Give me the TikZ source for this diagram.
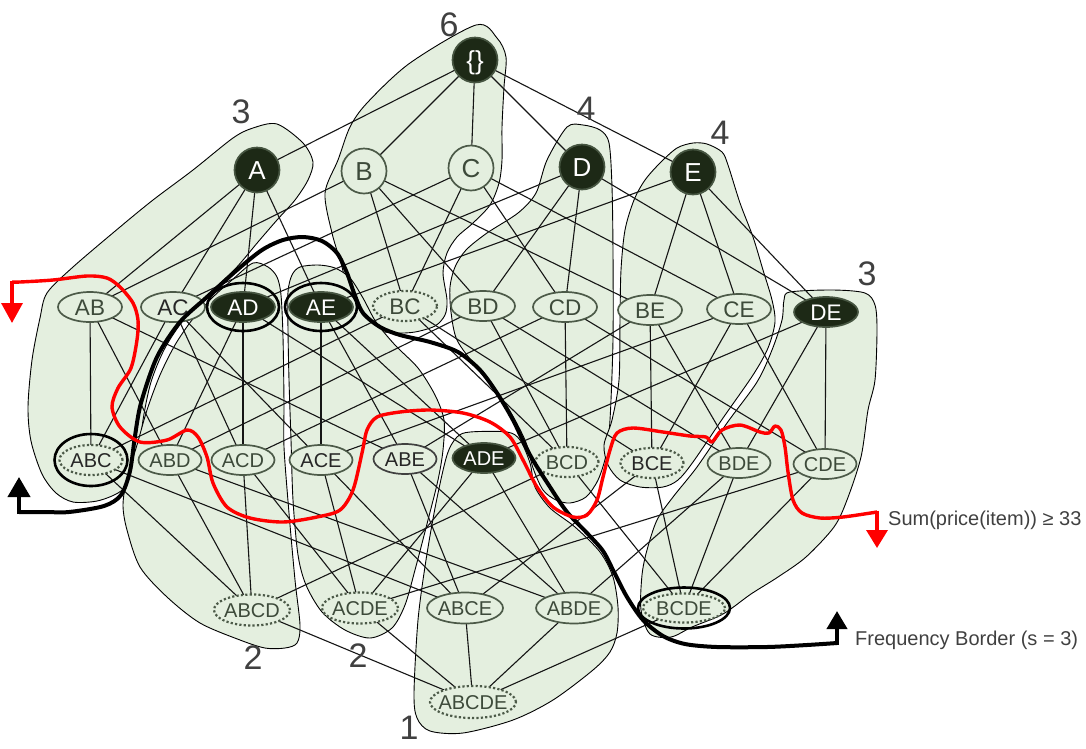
\documentclass[tikz,border=0pt]{standalone}
\usepackage{fontspec}
\setmainfont{Liberation Sans}
\usetikzlibrary{shapes.geometric,arrows.meta}
\definecolor{blobfill}{HTML}{E4EFDF}
\definecolor{nodefill}{HTML}{E4EFDF}
\definecolor{nodeline}{HTML}{4C5A48}
\definecolor{nodetext}{HTML}{3D4A3A}
\definecolor{darkfill}{HTML}{1D2916}
\definecolor{darkline}{HTML}{465541}
\definecolor{numcol}{HTML}{404040}
\definecolor{edgecol}{HTML}{151515}
\definecolor{redline}{HTML}{FF0000}
\pgfdeclarelayer{blobs}
\pgfdeclarelayer{edges}
\pgfdeclarelayer{over}
\pgfsetlayers{blobs,edges,main,over}
\newcommand{\lbl}[1]{\smash{\makebox[0pt]{\raisebox{-0.36em}{#1}}}}
\newcommand{\vlbl}[1]{\smash{\raisebox{-0.36em}{#1}}}
\tikzset{
  nd/.style={ellipse, inner sep=0pt, outer sep=0pt, line width=1.7pt},
  lv1/.style={minimum width=45pt, minimum height=45pt, font=\fontsize{26}{26}\selectfont},
  lv2/.style={minimum width=64pt, minimum height=30pt, font=\fontsize{22.5}{23}\selectfont},
  lv3/.style={minimum width=63pt, minimum height=30pt, font=\fontsize{20}{20}\selectfont},
  lv4/.style={minimum width=76pt, minimum height=31pt, font=\fontsize{20}{20}\selectfont},
  lt/.style={nd, fill=nodefill, draw=nodeline, text=nodetext},
  dk/.style={nd, fill=darkfill, draw=darkline, text=white},
  dt/.style={nd, fill=nodefill, draw=nodeline, text=nodetext, line width=2.2pt, dash pattern=on 2.2pt off 2.2pt},
  strong/.style={text=black!85},
  ring/.style={draw=black, line width=2.6pt},
  blob/.style={fill=blobfill, draw=black, line width=0.9pt},
  hasse/.style={draw=edgecol, line width=1.1pt},
  num/.style={text=numcol, font=\fontsize{34}{34}\selectfont, inner sep=0pt},
  caption/.style={text=numcol, font=\fontsize{20}{20}\selectfont, inner sep=0pt, anchor=west},
  bordr/.style={draw=black, line width=4pt, line join=round},
  redc/.style={draw=redline, line width=3.4pt, line join=round},
}
\begin{document}
\begin{tikzpicture}[x=1pt,y=-1pt]
\useasboundingbox (0,0) rectangle (1086,748);

% ---------- blobs ----------
\begin{pgfonlayer}{blobs}
% 6 : {}, B, C, BC
\draw[blob] plot[smooth cycle, tension=0.5] coordinates {(476,25) (497,38) (506,57) (504,87) (502,127) (502,160) (499,183) (490,205) (473,223) (457,237) (447,253) (443,273) (447,300) (445,315) (435,326) (415,332) (395,333) (375,330) (360,320) (350,300) (342,267) (332,233) (325,193) (338,160) (350,127) (367,103) (410,63)};
% 3 : A, AB, AC, ABC
\draw[blob] plot[smooth cycle, tension=0.5] coordinates {(277,124) (303,143) (313,162) (308,180) (295,200) (277,220) (258,242) (236,268) (210,293) (185,318) (165,348) (151,382) (143,420) (139,455) (132,480) (118,493) (97,501) (73,502) (56,493) (42,474) (31,441) (28,407) (32,360) (40,318) (47,293) (73,267) (120,227) (153,200) (193,170) (233,138) (253,128)};
% 2 : AD, ABD, ACD, ABCD
\draw[blob] plot[smooth cycle, tension=0.5] coordinates {(253,263) (268,267) (277,277) (281,295) (283,337) (284,403) (284,447) (289,513) (295,580) (300,625) (297,643) (285,648) (265,648) (240,640) (200,623) (167,597) (140,567) (127,530) (123,505) (127,478) (137,445) (147,410) (160,375) (175,345) (192,320) (212,298) (232,280)};
% 2 : AE, ACE, ABE, ACDE
\draw[blob] plot[smooth cycle, tension=0.5] coordinates {(300,267) (318,265) (335,268) (350,278) (363,298) (376,322) (395,345) (418,368) (435,395) (444,420) (443,450) (438,480) (428,520) (415,570) (405,605) (392,628) (370,638) (345,630) (322,612) (306,585) (298,555) (293,500) (291,440) (289,380) (288,330) (288,292) (292,275)};
% 1 : ADE, ABCE, ABDE, ABCDE
\draw[blob] plot[smooth cycle, tension=0.5] coordinates {(457,437) (470,432) (507,432) (520,440) (530,463) (535,487) (550,508) (575,527) (600,552) (613,577) (618,607) (617,633) (610,652) (593,670) (553,700) (513,720) (463,733) (430,731) (417,718) (414,693) (418,620) (426,560) (436,503) (447,455)};
% 4 : D, BD, CD, BCD
\draw[blob] plot[smooth cycle, tension=0.5] coordinates {(567,127) (583,125) (600,130) (609,143) (612,187) (613,253) (613,340) (610,420) (606,455) (598,480) (586,497) (570,503) (556,500) (543,490) (533,468) (525,440) (505,403) (477,368) (457,340) (451,312) (450,287) (455,267) (466,250) (487,233) (518,213) (536,193) (547,160)};
% 4 : E, BE, CE, BCE
\draw[blob] plot[smooth cycle, tension=0.5] coordinates {(693,143) (707,144) (722,152) (728,165) (740,203) (753,237) (763,270) (772,300) (775,322) (768,348) (753,375) (723,418) (693,462) (678,480) (663,487) (640,487) (620,480) (608,465) (604,445) (612,420) (619,380) (620,320) (621,270) (625,230) (634,200) (645,180) (660,163) (677,148)};
% 3 : DE, BDE, CDE, BCDE
\draw[blob] plot[smooth cycle, tension=0.5] coordinates {(790,292) (833,290) (865,293) (875,305) (877,330) (875,380) (868,410) (861,457) (847,500) (834,527) (806,557) (778,577) (751,594) (723,614) (692,627) (671,637) (650,634) (641,610) (642,575) (647,550) (657,520) (673,497) (697,467) (727,423) (757,382) (772,350) (782,320) (784,300)};
\end{pgfonlayer}

% ---------- nodes ----------
\node[dk, lv1] (E0) at (475,60) {\lbl{\{\}}};
\node[dk, lv1] (A) at (257,170) {\lbl{A}};
\node[lt, lv1] (B) at (364,171) {\lbl{B}};
\node[lt, lv1] (C) at (471,168) {\lbl{C}};
\node[dk, lv1] (D) at (582,167) {\lbl{D}};
\node[dk, lv1] (E) at (693,172) {\lbl{E}};

\node[lt, lv2] (AB) at (90,307) {\lbl{AB}};
\node[lt, lv2, strong] (AC) at (173,307) {\lbl{AC}};
\node[dk, lv2] (AD) at (243,307) {\lbl{AD}};
\node[dk, lv2] (AE) at (321,307) {\lbl{AE}};
\node[dt, lv2] (BC) at (405,306) {\lbl{BC}};
\node[lt, lv2] (BD) at (483,306) {\lbl{BD}};
\node[lt, lv2] (CD) at (565,307) {\lbl{CD}};
\node[lt, lv2] (BE) at (650,310) {\lbl{BE}};
\node[lt, lv2] (CE) at (739,309) {\lbl{CE}};
\node[dk, lv2] (DE) at (826,312) {\lbl{DE}};

\node[dt, lv3, strong] (ABC) at (91,460) {\lbl{ABC}};
\node[lt, lv3] (ABD) at (170,460) {\lbl{ABD}};
\node[lt, lv3] (ACD) at (243,460) {\lbl{ACD}};
\node[lt, lv3, strong] (ACE) at (321,460) {\lbl{ACE}};
\node[lt, lv3, strong, draw=black!75] (ABE) at (405,459) {\lbl{ABE}};
\node[dk, lv3] (ADE) at (484,458) {\lbl{ADE}};
\node[dt, lv3] (BCD) at (567,462) {\lbl{BCD}};
\node[dt, lv3, strong] (BCE) at (652,463) {\lbl{BCE}};
\node[lt, lv3] (BDE) at (739,463) {\lbl{BDE}};
\node[lt, lv3] (CDE) at (825,464) {\lbl{CDE}};

\node[dt, lv4] (ABCD) at (252,610) {\lbl{ABCD}};
\node[dt, lv4] (ACDE) at (360,608) {\lbl{ACDE}};
\node[lt, lv4] (ABCE) at (465,608) {\lbl{ABCE}};
\node[lt, lv4] (ABDE) at (574,608) {\lbl{ABDE}};
\node[dt, lv4, minimum width=82pt, minimum height=29pt] (BCDE) at (684,608) {\lbl{BCDE}};
\node[dt, lv4, minimum width=86pt, minimum height=32pt] (ABCDE) at (473,702) {\lbl{ABCDE}};

% ---------- Hasse edges ----------
\begin{pgfonlayer}{edges}
\foreach \a/\b in {E0/A, E0/B, E0/C, E0/D, E0/E,
  A/AB, A/AC, A/AD, A/AE, B/AB, B/BC, B/BD, B/BE, C/AC, C/BC, C/CD, C/CE,
  D/AD, D/BD, D/CD, D/DE, E/AE, E/BE, E/CE, E/DE,
  AB/ABC, AB/ABD, AB/ABE, AC/ABC, AC/ACD, AC/ACE, AD/ABD, AD/ACD, AD/ADE,
  AE/ABE, AE/ACE, AE/ADE, BC/ABC, BC/BCD, BC/BCE, BD/ABD, BD/BCD, BD/BDE,
  CD/ACD, CD/BCD, CD/CDE, BE/ABE, BE/BCE, BE/BDE, CE/ACE, CE/BCE, CE/CDE,
  DE/ADE, DE/BDE, DE/CDE,
  ABC/ABCD, ABC/ABCE, ABD/ABCD, ABD/ABDE, ACD/ABCD, ACD/ACDE, ACE/ABCE, ACE/ACDE,
  ABE/ABCE, ABE/ABDE, ADE/ABDE, ADE/ACDE, BCD/ABCD, BCD/BCDE, BCE/ABCE, BCE/BCDE,
  BDE/ABDE, BDE/BCDE, CDE/ACDE, CDE/BCDE,
  ABCD/ABCDE, ABCE/ABCDE, ABDE/ABCDE, ACDE/ABCDE, BCDE/ABCDE}
  \draw[hasse] (\a) -- (\b);
\end{pgfonlayer}

% ---------- rings, borders, labels ----------
\begin{pgfonlayer}{over}
\draw[ring] (AD.center) ellipse [x radius=36pt, y radius=24pt];
\draw[ring] (AE.center) ellipse [x radius=36pt, y radius=24pt];
\draw[ring] (ABC.center) ellipse [x radius=36.5pt, y radius=26pt];
\draw[ring] (BCDE.center) ellipse [x radius=46pt, y radius=20.5pt];

% frequency border
\draw[bordr] plot[smooth, tension=0.5] coordinates {(19,512) (45,512) (69,512) (104,506) (121,495) (130,471) (135,436) (141,403) (157,357) (180,322) (207,297) (237,270) (262,250) (283,240) (303,237) (322,241) (337,253) (347,273) (354,293) (363,313) (380,327) (400,335) (430,342) (458,352) (480,370) (497,393) (513,420) (530,455) (550,487) (567,512) (587,533) (603,551) (614,572) (627,597) (643,620) (663,636) (685,644) (717,647) (767,647) (807,645) (837,643)};
\coordinate (fbL) at (19,514);
\coordinate (fbLt) at (19,477);
\coordinate (fbR) at (837,645);
\coordinate (fbRt) at (837,611);
\draw[bordr, -{Triangle[length=20pt,width=22pt]}] (fbL) -- (fbLt);
\draw[bordr, -{Triangle[length=18pt,width=20pt]}] (fbR) -- (fbRt);

% price constraint border
\draw[redc] plot[smooth, tension=0.5] coordinates {(12,282) (20,282) (53,280) (87,276) (107,278) (120,287) (133,303) (138,320) (137,340) (131,368) (118,388) (112,407) (120,427) (140,442) (167,440) (187,430) (198,437) (207,457) (213,483) (227,507) (250,518) (283,522) (317,517) (340,510) (353,490) (362,453) (367,430) (377,417) (400,412) (430,410) (463,413) (490,422) (510,437) (523,460) (537,487) (553,507) (573,517) (587,515) (597,500) (603,477) (610,450) (617,433) (633,428) (663,432) (690,436) (706,437) (712,442) (722,430) (740,425) (760,432) (769,433) (775,426) (781,430) (785,447) (788,472) (793,500) (802,513) (820,518) (843,517) (877,512)};
\coordinate (rL) at (12,280.5);
\coordinate (rLt) at (12,323);
\coordinate (rR) at (877,510.5);
\coordinate (rRt) at (877,548);
\draw[redc, -{Triangle[length=20pt,width=21pt]}] (rL) -- (rLt);
\draw[redc, -{Triangle[length=18pt,width=21pt]}] (rR) -- (rRt);

\node[caption] (capS) at (888,518) {\vlbl{Sum(price(item)) ≥ 33}};
\node[caption] (capF) at (855,638) {\vlbl{Frequency Border (s = 3)}};

\node[num] (n6) at (449,24) {\lbl{6}};
\node[num] (n3a) at (241,111) {\lbl{3}};
\node[num] (n4a) at (586,108) {\lbl{4}};
\node[num] (n4b) at (720,132) {\lbl{4}};
\node[num] (n3b) at (867,273) {\lbl{3}};
\node[num] (n2a) at (253,657) {\lbl{2}};
\node[num] (n2b) at (358,655) {\lbl{2}};
\node[num] (n1) at (409,727) {\lbl{1}};
\end{pgfonlayer}
\end{tikzpicture}
\end{document}
